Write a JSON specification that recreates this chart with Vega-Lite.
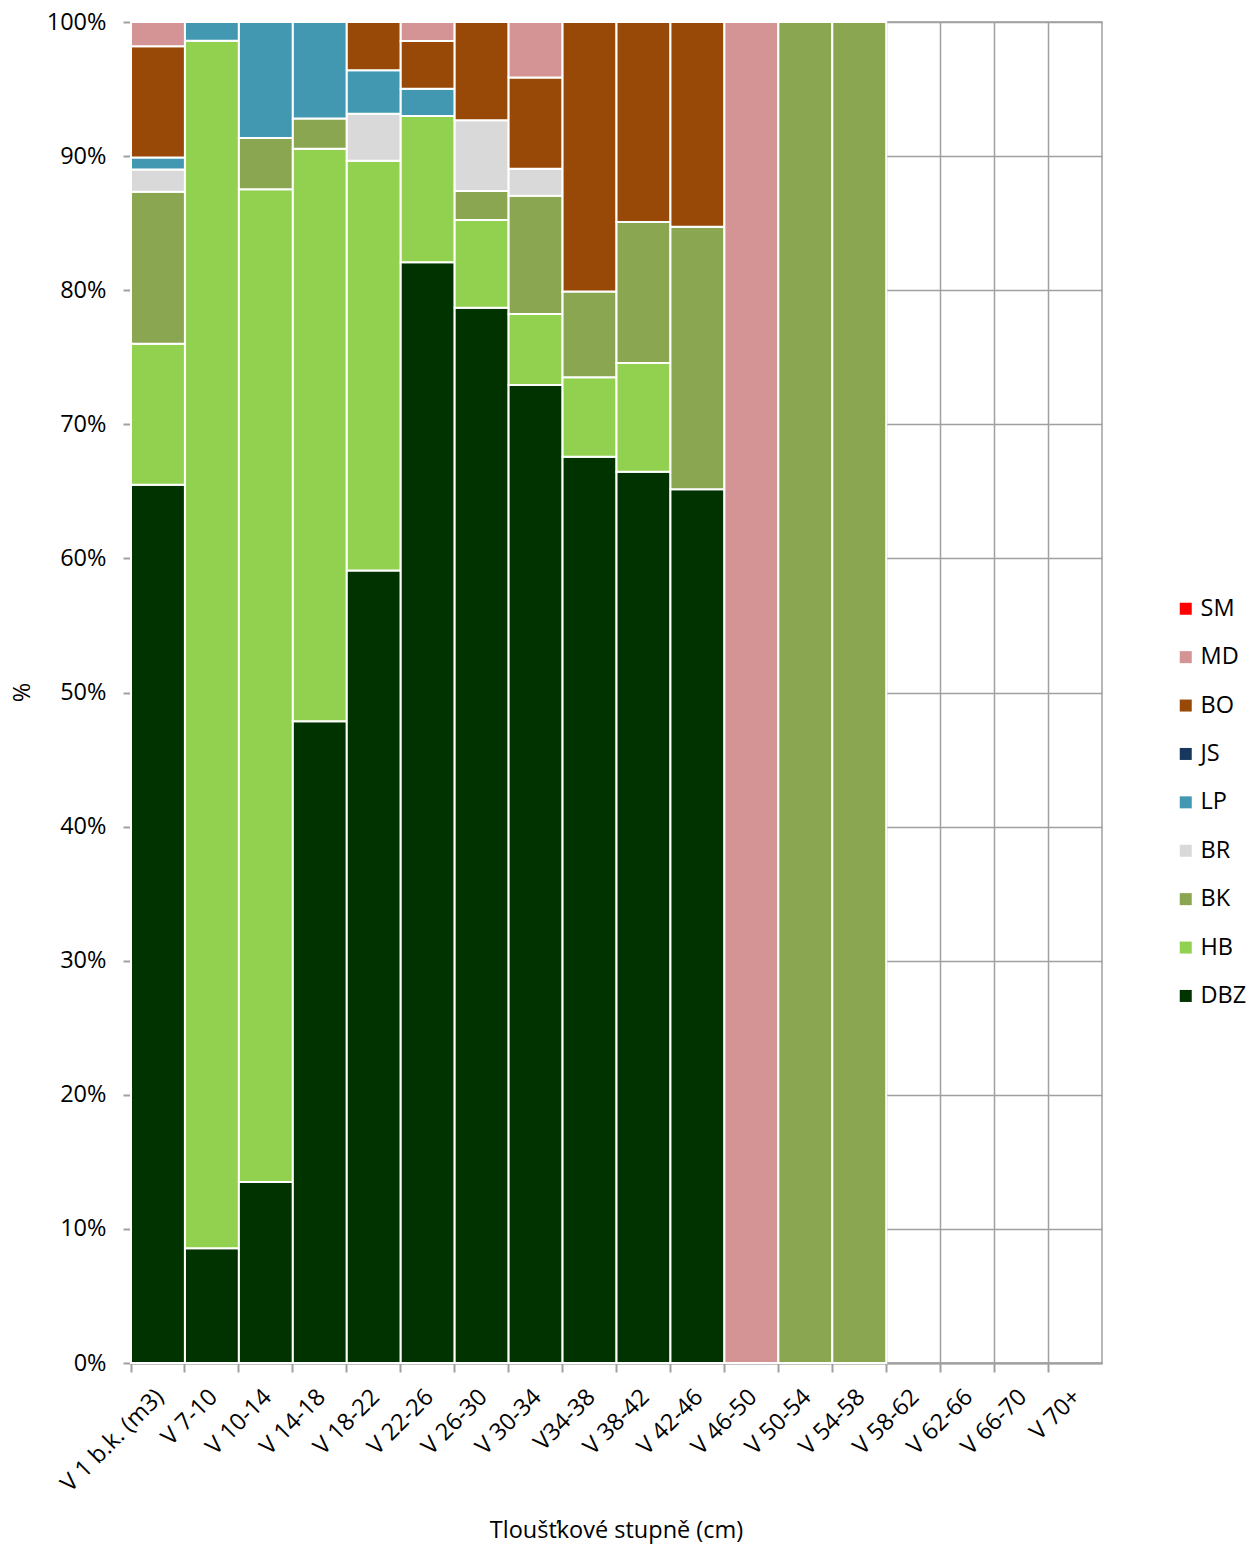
{
  "$schema": "https://vega.github.io/schema/vega-lite/v6.json",
  "width": 971,
  "height": 1341,
  "autosize": "none",
  "padding": {"left": 131, "top": 22, "right": 157, "bottom": 184},
  "background": "white",
  "config": {
    "font": "Open Sans",
    "view": {"stroke": "#A0A0A0", "strokeWidth": 1.5},
    "axis": {"labelColor": "#000000", "titleColor": "#000000", "titleFontWeight": "normal"}
  },
  "data": {
    "values": [
      {"cat": "V 1  b.k. (m3)", "species": "DBZ", "value": 65.5},
      {"cat": "V 1  b.k. (m3)", "species": "HB", "value": 10.5},
      {"cat": "V 1  b.k. (m3)", "species": "BK", "value": 11.35},
      {"cat": "V 1  b.k. (m3)", "species": "BR", "value": 1.65},
      {"cat": "V 1  b.k. (m3)", "species": "LP", "value": 0.9},
      {"cat": "V 1  b.k. (m3)", "species": "BO", "value": 8.3},
      {"cat": "V 1  b.k. (m3)", "species": "MD", "value": 1.8},
      {"cat": "V 7-10", "species": "DBZ", "value": 8.55},
      {"cat": "V 7-10", "species": "HB", "value": 90.05},
      {"cat": "V 7-10", "species": "LP", "value": 1.4},
      {"cat": "V 10-14", "species": "DBZ", "value": 13.5},
      {"cat": "V 10-14", "species": "HB", "value": 74.02},
      {"cat": "V 10-14", "species": "BK", "value": 3.83},
      {"cat": "V 10-14", "species": "LP", "value": 8.65},
      {"cat": "V 14-18", "species": "DBZ", "value": 47.85},
      {"cat": "V 14-18", "species": "HB", "value": 42.7},
      {"cat": "V 14-18", "species": "BK", "value": 2.25},
      {"cat": "V 14-18", "species": "LP", "value": 7.2},
      {"cat": "V 18-22", "species": "DBZ", "value": 59.1},
      {"cat": "V 18-22", "species": "HB", "value": 30.55},
      {"cat": "V 18-22", "species": "BR", "value": 3.5},
      {"cat": "V 18-22", "species": "LP", "value": 3.25},
      {"cat": "V 18-22", "species": "BO", "value": 3.6},
      {"cat": "V 22-26", "species": "DBZ", "value": 82.08},
      {"cat": "V 22-26", "species": "HB", "value": 10.91},
      {"cat": "V 22-26", "species": "LP", "value": 2.04},
      {"cat": "V 22-26", "species": "BO", "value": 3.55},
      {"cat": "V 22-26", "species": "MD", "value": 1.42},
      {"cat": "V 26-30", "species": "DBZ", "value": 78.7},
      {"cat": "V 26-30", "species": "HB", "value": 6.53},
      {"cat": "V 26-30", "species": "BK", "value": 2.17},
      {"cat": "V 26-30", "species": "BR", "value": 5.27},
      {"cat": "V 26-30", "species": "BO", "value": 7.33},
      {"cat": "V 30-34", "species": "DBZ", "value": 72.93},
      {"cat": "V 30-34", "species": "HB", "value": 5.3},
      {"cat": "V 30-34", "species": "BK", "value": 8.82},
      {"cat": "V 30-34", "species": "BR", "value": 2.0},
      {"cat": "V 30-34", "species": "BO", "value": 6.82},
      {"cat": "V 30-34", "species": "MD", "value": 4.13},
      {"cat": "V34-38", "species": "DBZ", "value": 67.58},
      {"cat": "V34-38", "species": "HB", "value": 5.92},
      {"cat": "V34-38", "species": "BK", "value": 6.4},
      {"cat": "V34-38", "species": "BO", "value": 20.1},
      {"cat": "V 38-42", "species": "DBZ", "value": 66.47},
      {"cat": "V 38-42", "species": "HB", "value": 8.1},
      {"cat": "V 38-42", "species": "BK", "value": 10.52},
      {"cat": "V 38-42", "species": "BO", "value": 14.91},
      {"cat": "V 42-46", "species": "DBZ", "value": 65.15},
      {"cat": "V 42-46", "species": "BK", "value": 19.59},
      {"cat": "V 42-46", "species": "BO", "value": 15.26},
      {"cat": "V 46-50", "species": "MD", "value": 100},
      {"cat": "V 50-54", "species": "BK", "value": 100},
      {"cat": "V 54-58", "species": "BK", "value": 100}
    ]
  },
  "transform": [
    {"calculate": "indexof(['DBZ','HB','BK','BR','LP','JS','BO','MD','SM'], datum.species)", "as": "stackOrder"}
  ],
  "mark": {"type": "bar", "stroke": "white", "strokeWidth": 2},
  "encoding": {
    "x": {
      "field": "cat",
      "type": "nominal",
      "sort": null,
      "scale": {
        "domain": ["V 1  b.k. (m3)", "V 7-10", "V 10-14", "V 14-18", "V 18-22", "V 22-26", "V 26-30", "V 30-34", "V34-38", "V 38-42", "V 42-46", "V 46-50", "V 50-54", "V 54-58", "V 58-62", "V 62-66", "V 66-70", "V 70+"],
        "paddingInner": 0,
        "paddingOuter": 0
      },
      "axis": {
        "title": "Tloušťkové stupně (cm)",
        "titleFontSize": 23.5,
        "titleX": 485,
        "titleY": 167,
        "titleAlign": "center",
        "titleBaseline": "middle",
        "labelAngle": -45,
        "labelAlign": "right",
        "labelBaseline": "middle",
        "labelFontSize": 23.5,
        "labelPadding": 21,
        "labelOffset": 2,
        "bandPosition": 0,
        "grid": true,
        "gridColor": "#A0A0A0",
        "gridWidth": 1.5,
        "domainColor": "#A0A0A0",
        "domainWidth": 2,
        "tickColor": "#A0A0A0",
        "tickWidth": 2,
        "tickSize": 9
      }
    },
    "y": {
      "field": "value",
      "type": "quantitative",
      "stack": "normalize",
      "scale": {"domain": [0, 1], "nice": false},
      "axis": {
        "title": "%",
        "titleFontSize": 23.5,
        "titleX": -109,
        "titleY": 670,
        "titleAngle": -90,
        "titleAlign": "center",
        "titleBaseline": "middle",
        "format": ".0%",
        "values": [0, 0.1, 0.2, 0.3, 0.4, 0.5, 0.6, 0.7, 0.8, 0.9, 1.0],
        "labelFontSize": 23.5,
        "labelPadding": 17,
        "grid": true,
        "gridColor": "#A0A0A0",
        "gridWidth": 1.5,
        "domainColor": "#A0A0A0",
        "domainWidth": 2,
        "tickColor": "#A0A0A0",
        "tickWidth": 2,
        "tickSize": 8
      }
    },
    "color": {
      "field": "species",
      "type": "nominal",
      "scale": {
        "domain": ["SM", "MD", "BO", "JS", "LP", "BR", "BK", "HB", "DBZ"],
        "range": ["#FF0000", "#D49394", "#984807", "#17375E", "#4398B1", "#D9D9D9", "#8BA650", "#92D050", "#003300"]
      },
      "legend": {
        "title": null,
        "orient": "none",
        "legendX": 1043,
        "legendY": 575,
        "symbolType": "square",
        "symbolSize": 144,
        "symbolStrokeWidth": 0,
        "labelFontSize": 23.5,
        "labelOffset": 3,
        "rowPadding": 23.4,
        "labelColor": "#000000"
      }
    },
    "order": {"field": "stackOrder", "type": "quantitative", "sort": "ascending"}
  }
}
